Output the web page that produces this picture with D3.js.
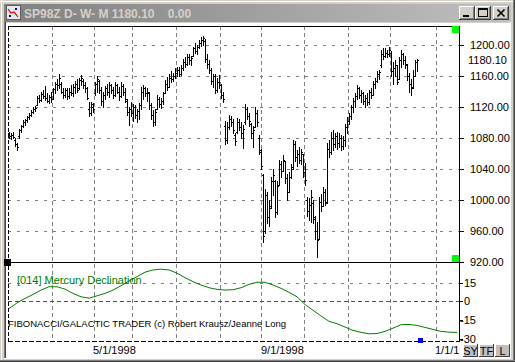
<!DOCTYPE html>
<html><head><meta charset="utf-8">
<script src="https://cdn.jsdelivr.net/npm/d3@7"></script>
<style>
html,body{margin:0;padding:0;background:#d4d0c8;}
svg{display:block;}
text{font-family:"Liberation Sans",Arial,sans-serif;}
</style></head><body>
<svg id="c" width="515" height="362"></svg>
<script>
// ---- DATA (daily bars, SP98Z) ----
const opens=[1086,1082,1084,1078,1072,1082,1090,1095,1100,1103,
1107,1110,1114,1118,1122,1131,1129,1137,1134,1131,
1128,1133,1130,1143,1150,1148,1150,1140,1136,1142,
1134,1140,1138,1146,1150,1144,1155,1154,1148,1144,
1118,1112,1120,1138,1150,1154,1142,1128,1136,1144,
1140,1148,1142,1136,1148,1140,1134,1147,1140,1128,
1114,1118,1112,1120,1110,1115,1122,1140,1144,1138,
1138,1122,1110,1100,1118,1130,1124,1128,1138,1150,
1146,1158,1156,1160,1164,1168,1162,1170,1178,1176,
1185,1180,1186,1196,1192,1198,1203,1207,1205,1182,
1176,1168,1154,1160,1142,1152,1148,1136,1096,1078,
1094,1104,1100,1084,1088,1100,1094,1086,1100,1118,
1108,1098,1086,1094,1112,1080,1062,1032,960,1006,
978,992,1024,1024,984,1020,1046,1038,1050,1028,
1010,1030,1042,1072,1056,1060,1052,1060,1036,1000,
986,994,996,976,960,950,998,992,1010,998,
1066,1062,1080,1072,1082,1074,1080,1070,1078,1094,
1102,1108,1120,1128,1134,1144,1136,1138,1128,1132,
1126,1140,1136,1150,1154,1162,1174,1188,1186,1190,
1188,1190,1166,1170,1174,1156,1180,1188,1180,1174,
1160,1150,1146,1160,1178];
const highs=[1088,1087,1088,1080,1074,1092,1097,1103,1105,1109,
1112,1116,1120,1121,1134,1135,1140,1142,1147,1138,
1136,1140,1145,1152,1156,1162,1152,1144,1145,1144,
1145,1148,1150,1153,1156,1158,1161,1156,1152,1146,
1126,1127,1125,1152,1160,1155,1146,1140,1147,1150,
1152,1150,1146,1152,1150,1146,1152,1150,1144,1130,
1120,1126,1124,1122,1118,1125,1146,1148,1146,1144,
1140,1125,1116,1118,1135,1133,1132,1140,1155,1159,
1162,1166,1164,1170,1172,1171,1174,1182,1184,1188,
1189,1186,1198,1202,1200,1206,1210,1212,1208,1188,
1180,1170,1163,1162,1158,1161,1150,1140,1102,1100,
1110,1108,1104,1086,1106,1104,1100,1097,1124,1120,
1112,1099,1096,1120,1116,1084,1066,1034,1014,1010,
1000,1030,1040,1026,1024,1052,1050,1058,1050,1034,
1036,1047,1077,1076,1064,1068,1066,1060,1048,1004,
1002,1013,1000,980,972,1004,1008,1017,1014,1073,
1078,1088,1090,1086,1088,1086,1084,1082,1098,1107,
1112,1123,1132,1138,1148,1146,1142,1140,1136,1138,
1142,1144,1154,1157,1166,1168,1194,1196,1196,1194,
1198,1192,1178,1180,1174,1184,1194,1190,1186,1176,
1164,1156,1168,1180,1182];
const lows=[1080,1079,1080,1070,1064,1080,1088,1094,1097,1100,
1104,1108,1112,1115,1122,1126,1128,1131,1129,1126,
1125,1127,1130,1138,1142,1145,1138,1131,1133,1130,
1131,1135,1134,1138,1140,1143,1148,1145,1139,1130,
1108,1110,1113,1135,1140,1138,1122,1120,1130,1135,
1133,1138,1131,1134,1138,1129,1133,1136,1126,1110,
1097,1108,1102,1106,1101,1104,1118,1130,1134,1128,
1118,1104,1095,1097,1118,1120,1119,1124,1138,1142,
1146,1152,1153,1158,1160,1160,1161,1168,1172,1174,
1176,1174,1186,1190,1188,1196,1199,1200,1178,1170,
1164,1150,1146,1138,1140,1144,1132,1126,1072,1074,
1092,1096,1086,1071,1086,1090,1080,1067,1098,1104,
1095,1080,1069,1094,1096,1060,1040,946,958,970,
966,990,1006,978,982,1020,1030,1038,1022,1000,
1010,1028,1040,1050,1044,1048,1046,1030,1020,980,
974,972,970,950,927,950,986,992,993,996,
1056,1060,1064,1068,1066,1068,1064,1066,1070,1086,
1098,1104,1114,1120,1130,1132,1126,1124,1120,1122,
1124,1131,1136,1144,1152,1156,1172,1182,1184,1184,
1186,1160,1150,1160,1150,1156,1172,1176,1170,1155,
1140,1135,1144,1160,1166];
const closes=[1082,1084,1081,1072,1068,1090,1095,1100,1103,1107,
1110,1114,1118,1119,1131,1129,1137,1134,1131,1128,
1133,1130,1143,1150,1148,1158,1140,1136,1142,1134,
1140,1138,1146,1150,1142,1155,1157,1148,1144,1132,
1112,1124,1118,1150,1156,1142,1128,1136,1144,1140,
1148,1142,1136,1148,1140,1134,1147,1140,1130,1114,
1118,1112,1120,1110,1115,1122,1140,1144,1138,1140,
1122,1110,1100,1114,1130,1124,1128,1138,1150,1146,
1158,1156,1160,1164,1168,1162,1170,1178,1176,1185,
1180,1183,1196,1192,1198,1203,1207,1209,1182,1176,
1168,1154,1160,1142,1152,1148,1136,1130,1078,1094,
1104,1100,1090,1076,1100,1094,1086,1092,1118,1108,
1102,1086,1090,1112,1100,1064,1044,954,1006,978,
990,1024,1032,984,1018,1046,1038,1052,1028,1010,
1030,1040,1072,1056,1060,1052,1062,1036,1026,986,
994,1004,978,960,948,998,992,1010,996,1066,
1062,1080,1072,1082,1074,1080,1070,1078,1094,1102,
1108,1120,1128,1134,1144,1136,1138,1128,1132,1126,
1140,1136,1150,1154,1162,1165,1188,1186,1190,1188,
1194,1166,1170,1174,1152,1180,1188,1180,1176,1160,
1150,1144,1160,1178,1180.1];
// Mercury declination, sampled every 4 bars starting at bar 0
const mercuryStep=4;
const mercury=[-5.9,-1.4,2.2,5.4,8.9,11.6,11.6,9.7,6.2,3.5,
2.4,4.3,6.2,8.9,12.4,16.2,19.7,23.3,25.1,25.7,
25.1,22.5,18.9,15.7,13,10.8,9.5,8.9,9.2,10.8,
13.5,15.2,15.2,13,10.3,7.1,3.5,-2.7,-7.3,-11.9,
-16.2,-18.1,-20.8,-23.5,-25.1,-26.2,-26,-24.3,-21.7,-18.9,
-18.7,-19.5,-21.1,-22.7,-24.3,-24.9,-25.1];
const monthStartIdx=[22,43,62,84,106,127,148,170,191,214];
const dateLabelIdx=[43,127,214];
const dateLabels=["5/1/1998","9/1/1998","1/1/1"];
const priceTicks=[1200,1160,1120,1080,1040,1000,960,920];
const lowerTicks=[15,0,-15,-30];
const lastPrice=1180.10;
const cursorIdx=205;
const titleText="SP98Z D- W- M 1180.10    0.00";
const indicatorLabel="[014] Mercury Declination";
const creditText="FIBONACCI/GALACTIC TRADER (c) Robert Krausz/Jeanne Long";
const buttons=["SY","TF","L"];

// ---- DRAW ----
const svg=d3.select('#c');
const L=8,R=459,T=26,MB=262,LB=341;
const x=d3.scaleLinear().domain([-0.5,224.5]).range([8,458]);
const y=d3.scaleLinear().domain([920,1200]).range([262,45]);
const yl=d3.scaleLinear().domain([-30,15]).range([338.5,282.5]);
const px=v=>Math.round(v)+0.5;

// window frame
svg.append('rect').attr('width',515).attr('height',362).attr('fill','#d4d0c8');
const fl=(x1,y1,x2,y2,c)=>svg.append('line').attr('x1',x1).attr('y1',y1).attr('x2',x2).attr('y2',y2).attr('stroke',c).attr('shape-rendering','crispEdges');
fl(0,1.5,515,1.5,'#ffffff');fl(1.5,0,1.5,362,'#ffffff');
fl(513.5,0,513.5,362,'#808080');fl(514.5,0,514.5,362,'#404040');
fl(0,360.5,515,360.5,'#808080');fl(0,361.5,515,361.5,'#404040');

const defs=svg.append('defs');
const g=defs.append('linearGradient').attr('id','tg');
g.append('stop').attr('offset','0%').attr('stop-color','#808080');
g.append('stop').attr('offset','100%').attr('stop-color','#c0c0c0');
svg.append('rect').attr('x',4).attr('y',4).attr('width',507).attr('height',18).attr('fill','url(#tg)');
// icon
svg.append('rect').attr('x',6.5).attr('y',5.5).attr('width',14).attr('height',14).attr('fill','#e8e8e8').attr('stroke','#606060');
svg.append('polyline').attr('points','8,9 11,13 14,12 18,17').attr('fill','none').attr('stroke','#d00000').attr('stroke-width',1.2);
svg.append('rect').attr('x',15).attr('y',8).attr('width',2).attr('height',2).attr('fill','#0000c0');
svg.append('rect').attr('x',9).attr('y',15).attr('width',2).attr('height',2).attr('fill','#0000c0');
svg.append('text').attr('x',24).attr('y',17.5).attr('font-size',12).attr('font-weight','bold')
  .attr('fill','#d4d0c8').style('white-space','pre').text(titleText);
// caption buttons
function capBtn(bx){
  svg.append('rect').attr('x',bx).attr('y',6).attr('width',16).attr('height',14).attr('fill','#d4d0c8');
  fl(bx,6.5,bx+16,6.5,'#ffffff');fl(bx+0.5,6,bx+0.5,20,'#ffffff');
  fl(bx,19.5,bx+16,19.5,'#404040');fl(bx+15.5,6,bx+15.5,20,'#404040');
  fl(bx+1,18.5,bx+15,18.5,'#808080');fl(bx+14.5,7,bx+14.5,19,'#808080');
}
capBtn(459);capBtn(475);capBtn(493);
svg.append('rect').attr('x',463).attr('y',15).attr('width',6).attr('height',2).attr('fill','#000');
svg.append('rect').attr('x',478.5).attr('y',8.5).attr('width',9).attr('height',8).attr('fill','none').attr('stroke','#000');
svg.append('rect').attr('x',478).attr('y',9).attr('width',10).attr('height',1).attr('fill','#000');
svg.append('path').attr('d','M497.5,9.5 L504.5,16.5 M504.5,9.5 L497.5,16.5').attr('stroke','#000').attr('stroke-width',1.6);

// client area
svg.append('rect').attr('x',6).attr('y',23).attr('width',504).attr('height',335).attr('fill','#ffffff');
fl(4.5,22,4.5,359,'#808080');fl(5.5,22,5.5,358,'#404040');
fl(4,358.5,511,358.5,'#ffffff');fl(510.5,22,510.5,359,'#ffffff');

// gridlines
const gv=svg.append('g');
monthStartIdx.forEach(m=>{
  const gx=px(x(m-0.5)-0.5);
  gv.append('line').attr('x1',gx).attr('x2',gx).attr('y1',T).attr('y2',LB)
   .attr('stroke','#808080').attr('stroke-dasharray','4,3').attr('shape-rendering','crispEdges');
});
priceTicks.filter(v=>v>920).forEach(v=>{
  gv.append('line').attr('x1',L).attr('x2',R).attr('y1',px(y(v))).attr('y2',px(y(v)))
   .attr('stroke','#808080').attr('stroke-dasharray','3,6').attr('shape-rendering','crispEdges');
});
gv.append('line').attr('x1',L).attr('x2',R).attr('y1',px(yl(15))).attr('y2',px(yl(15)))
  .attr('stroke','#808080').attr('stroke-dasharray','3,6').attr('shape-rendering','crispEdges');
gv.append('line').attr('x1',L).attr('x2',R).attr('y1',px(yl(0))).attr('y2',px(yl(0)))
  .attr('stroke','#505050').attr('stroke-dasharray','4,3').attr('shape-rendering','crispEdges');

// borders
fl(L,T+0.5,R+0.5,T+0.5,'#000');
fl(L,MB+0.5,R+0.5,MB+0.5,'#000');
fl(R+0.5,T,R+0.5,LB+1,'#000');
svg.append('line').attr('x1',L+0.5).attr('x2',L+0.5).attr('y1',T).attr('y2',LB).attr('stroke','#000')
  .attr('stroke-dasharray','4,2').attr('shape-rendering','crispEdges');
svg.append('line').attr('x1',L).attr('x2',R).attr('y1',LB+0.5).attr('y2',LB+0.5).attr('stroke','#000')
  .attr('stroke-dasharray','5,2').attr('shape-rendering','crispEdges');

// OHLC bars
const bars=svg.append('g').attr('stroke','#000').attr('shape-rendering','crispEdges');
closes.forEach((c,i)=>{
  const cx=Math.round(x(i))+0.5;
  bars.append('line').attr('x1',cx).attr('x2',cx).attr('y1',Math.round(y(highs[i]))).attr('y2',Math.round(y(lows[i]))+1);
  const yo=px(y(opens[i])), yc=px(y(c));
  bars.append('line').attr('x1',cx-1.5).attr('x2',cx).attr('y1',yo).attr('y2',yo);
  bars.append('line').attr('x1',cx).attr('x2',cx+1.5).attr('y1',yc).attr('y2',yc);
});

// Mercury line
const mpts=mercury.map((v,k)=>({i:k*mercuryStep,v}));
svg.append('path').datum(mpts).attr('fill','none').attr('stroke','#008000').attr('stroke-width',1)
  .attr('d',d3.line().x(d=>x(d.i)).y(d=>yl(d.v)));

// price axis
const ax=svg.append('g').attr('transform',`translate(${R},0)`)
  .call(d3.axisRight(y).tickValues(priceTicks).tickFormat(d3.format('.2f')).tickSize(5).tickPadding(6));
ax.select('.domain').remove();
ax.selectAll('line').attr('stroke','#000').attr('shape-rendering','crispEdges');
ax.selectAll('text').attr('font-size',11).attr('font-family','"Liberation Sans",Arial,sans-serif').attr('fill','#000');
svg.append('text').attr('x',468).attr('y',y(lastPrice)+4).attr('font-size',11).attr('fill','#000').text(lastPrice.toFixed(2));

// lower axis
const axl=svg.append('g').attr('transform',`translate(${R},0)`)
  .call(d3.axisRight(yl).tickValues(lowerTicks).tickFormat(d=>String(d)).tickSize(4).tickPadding(1));
axl.select('.domain').remove();
axl.selectAll('line').attr('stroke','#000').attr('shape-rendering','crispEdges');
axl.selectAll('text').attr('font-size',11).attr('font-family','"Liberation Sans",Arial,sans-serif').attr('fill','#000')
  .attr('x',d=>d<0?1:5);

// date labels
dateLabels.forEach((t,k)=>{
  svg.append('text').attr('x',x(dateLabelIdx[k]-0.5)-1).attr('y',354).attr('font-size',11).attr('fill','#000').text(t);
});

// indicator texts
svg.append('text').attr('x',17).attr('y',284).attr('font-size',11).attr('fill','#008000').text(indicatorLabel);
svg.append('text').attr('x',8).attr('y',327).attr('font-size',9.5).attr('fill','#000').text(creditText);

// markers
svg.append('rect').attr('x',452).attr('y',26).attr('width',7).attr('height',7).attr('fill','#00ff00');
svg.append('rect').attr('x',452).attr('y',255).attr('width',7).attr('height',7).attr('fill','#00ff00');
svg.append('rect').attr('x',4).attr('y',259).attr('width',7).attr('height',7).attr('fill','#000');
svg.append('rect').attr('x',Math.round(x(cursorIdx))-1).attr('y',338).attr('width',5).attr('height',5).attr('fill','#0000ff');

// bottom buttons
const btnX=[463,479,495];
buttons.forEach((b,k)=>{
  const bx=btnX[k];
  svg.append('rect').attr('x',bx).attr('y',344).attr('width',15).attr('height',13).attr('fill','#c0c0c0');
  fl(bx,344.5,bx+15,344.5,'#ffffff');fl(bx+0.5,344,bx+0.5,357,'#ffffff');
  fl(bx,356.5,bx+15,356.5,'#404040');fl(bx+14.5,344,bx+14.5,357,'#404040');
  svg.append('text').attr('x',bx+7.5).attr('y',355).attr('text-anchor','middle').attr('font-size',11)
    .attr('fill','#000').text(b);
});
</script>
</body></html>
